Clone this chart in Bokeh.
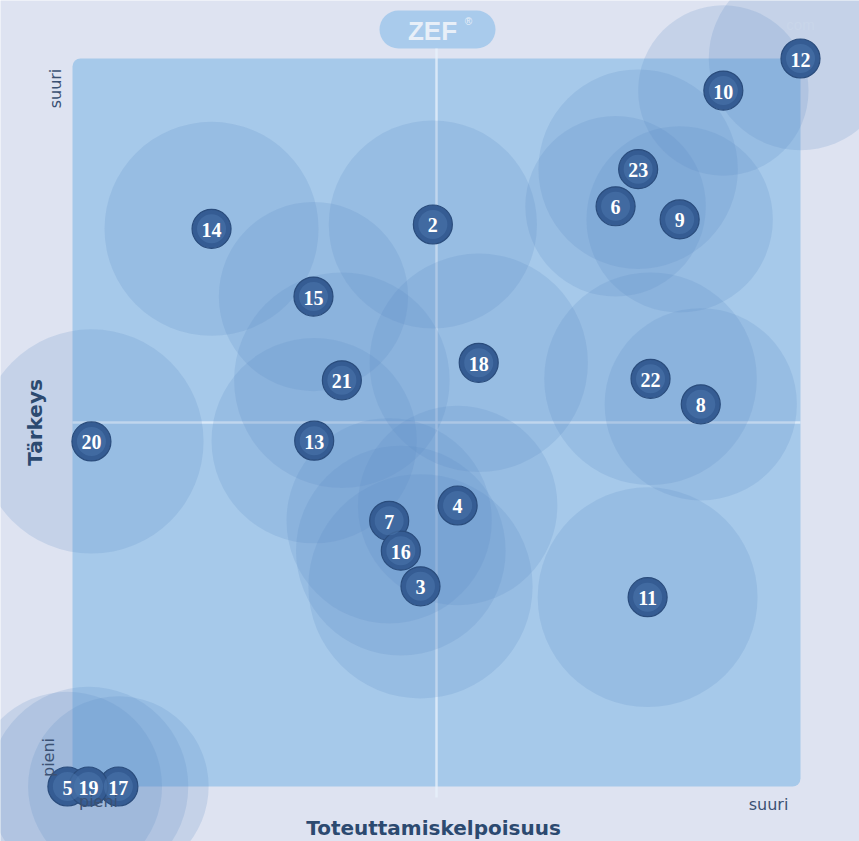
import math
from bokeh.plotting import figure
from bokeh.models import Range1d, BoxAnnotation, Label, ColumnDataSource
from bokeh.core.properties import value
from bokeh.embed import file_html
from bokeh.resources import INLINE

# ---- data (feasibility x, importance y, bubble size, all on 0..10 scale) ----
ids = ["12", "10", "23", "6", "9", "2", "14", "15", "18", "22", "21", "8",
       "20", "13", "4", "7", "16", "3", "11", "5", "17", "19"]
feasibility = [10.0, 8.94, 7.77, 7.46, 8.34, 4.95, 1.91, 3.31, 5.58, 7.94, 3.70, 8.63,
               0.26, 3.32, 5.29, 4.35, 4.51, 4.78, 7.90, -0.07, 0.63, 0.22]
importance = [10.0, 9.56, 8.48, 7.97, 7.79, 7.72, 7.66, 6.73, 5.82, 5.60, 5.58, 5.25,
              4.74, 4.75, 3.86, 3.65, 3.24, 2.75, 2.60, 0.0, 0.0, 0.0]
spread = [1.26, 1.17, 1.37, 1.24, 1.28, 1.43, 1.47, 1.30, 1.50, 1.46, 1.48, 1.32,
          1.54, 1.41, 1.37, 1.41, 1.44, 1.54, 1.51, 1.30, 1.24, 1.37]

# ---- pixel helpers for layout of decorations (reference pixel -> data) ----
S = 72.8
def dx(px):
    return (px - 72) / S
def dy(py):
    return (786 - py) / S

W, H = 859, 841
p = figure(width=W, height=H, x_range=Range1d(dx(0), dx(W)),
           y_range=Range1d(dy(H), dy(0)), output_backend="svg",
           toolbar_location=None, min_border=0)
p.axis.visible = False
p.grid.visible = False
p.outline_line_color = None
bg = "#dee3f1"
p.background_fill_color = bg
p.border_fill_color = bg

# plot area
p.add_layout(BoxAnnotation(left=0, right=10, bottom=0, top=10, fill_color="#a6c9ea",
                           fill_alpha=1.0, line_color=None, border_radius=8,
                           level="underlay"))
# ZEF pill
p.add_layout(BoxAnnotation(left=dx(379), right=dx(495), top=dy(10), bottom=dy(48),
                           fill_color="#a9cbec", fill_alpha=1.0, line_color=None,
                           border_radius=19, level="underlay"))

# cross lines
p.segment(x0=[5, 0], y0=[dy(48), 5], x1=[5, 10], y1=[dy(797), 5],
          line_color="#e8f1fb", line_width=2.5, line_alpha=0.75)

src = ColumnDataSource(dict(x=feasibility, y=importance, r=spread, t=ids))

# bubbles
p.circle(x="x", y="y", radius="r", source=src, fill_color="#5888c4",
         fill_alpha=0.19, line_color=None)

# sphere markers
p.scatter(x="x", y="y", size=39, source=src, fill_color="#355c93",
          line_color="#2a4c7c", line_width=1.2)
p.scatter(x="x", y="y", size=29, source=src, fill_color="#4b76ad",
          fill_alpha=0.55, line_color=None)
p.text(x="x", y="y", text="t", source=src, text_color="white",
       text_font=value("Liberation Serif"), text_font_style="bold",
       text_font_size="20px", text_align="center", text_baseline="middle",
       y_offset=1)

# texts
p.add_layout(Label(x=dx(432), y=dy(30), text="ZEF", text_color="#e8eff8",
                   text_font="Liberation Sans", text_font_style="bold",
                   text_font_size="26px", text_align="center",
                   text_baseline="middle"))
p.add_layout(Label(x=dx(468), y=dy(21), text="®", text_color="#e8eff8",
                   text_font="Liberation Sans", text_font_size="10px",
                   text_align="center", text_baseline="middle"))
p.add_layout(Label(x=dx(800), y=dy(24), text="com", text_color="#c9d6ea",
                   text_font="Liberation Sans", text_font_size="15px",
                   text_align="center", text_baseline="middle"))
axis_col = "#2c4a70"
p.add_layout(Label(x=dx(34), y=dy(422), text="Tärkeys", angle=math.pi / 2,
                   text_color=axis_col, text_font="DejaVu Sans",
                   text_font_style="bold", text_font_size="20px",
                   text_align="center", text_baseline="middle"))
p.add_layout(Label(x=dx(433), y=dy(827), text="Toteuttamiskelpoisuus",
                   text_color=axis_col, text_font="DejaVu Sans",
                   text_font_style="bold", text_font_size="20px",
                   text_align="center", text_baseline="middle"))
lab_col = "#3b5173"
p.add_layout(Label(x=dx(55), y=dy(88), text="suuri", angle=math.pi / 2,
                   text_color=lab_col, text_font="DejaVu Sans",
                   text_font_size="16px", text_align="center",
                   text_baseline="middle"))
p.add_layout(Label(x=dx(768), y=dy(804), text="suuri", text_color=lab_col,
                   text_font="DejaVu Sans", text_font_size="16px",
                   text_align="center", text_baseline="middle"))
p.add_layout(Label(x=dx(48), y=dy(757), text="pieni", angle=math.pi / 2,
                   text_color=lab_col, text_font="DejaVu Sans",
                   text_font_size="16px", text_align="center",
                   text_baseline="middle"))
p.add_layout(Label(x=dx(98), y=dy(801), text="pieni", text_color=lab_col,
                   text_font="DejaVu Sans", text_font_size="16px",
                   text_align="center", text_baseline="middle"))

open("out.html", "w").write(file_html(p, INLINE))
